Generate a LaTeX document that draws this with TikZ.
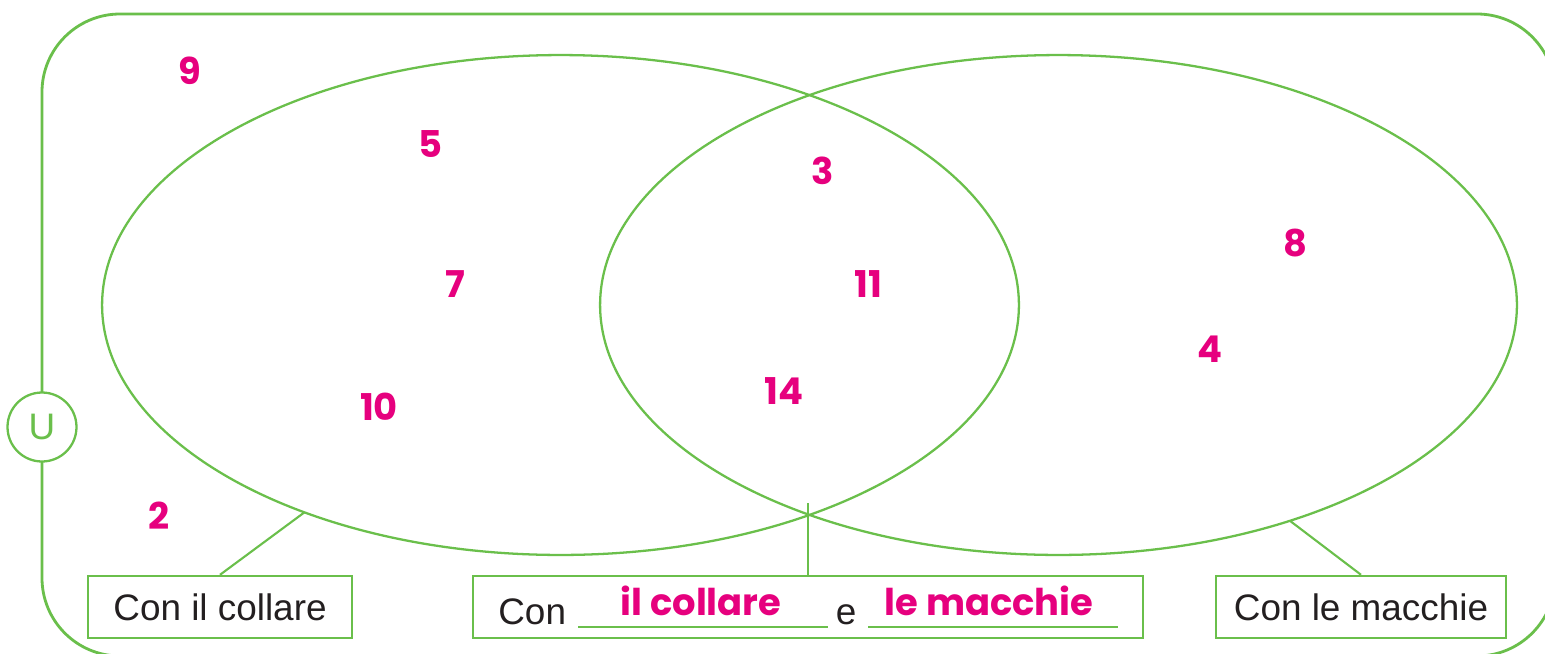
\documentclass[tikz,border=0pt]{standalone}
\usepackage{fontspec}
\setmainfont{Liberation Sans}
\newfontfamily\handfont{Poppins}
\usetikzlibrary{shapes.geometric}
\definecolor{vd}{HTML}{6ABF4B}
\definecolor{mg}{HTML}{E6007E}
\definecolor{ink}{HTML}{231F20}

\begin{document}
\begin{tikzpicture}[x=0.02cm,y=-0.02cm,
    set/.style={ellipse,draw=vd,line width=1.3pt,inner sep=0pt,outer sep=0pt,minimum width=18.34cm,minimum height=10cm},
    tag/.style={rectangle,draw=vd,line width=1.4pt,fill=white,minimum height=1.24cm,font=\fontsize{21}{24}\selectfont,text=ink},
    word/.style={font=\fontsize{21}{24}\selectfont,text=ink,inner sep=0pt},
    num/.style={font=\handfont\bfseries\fontsize{21}{24}\selectfont,text=mg,inner sep=0pt},
    link/.style={vd,line width=1.2pt},
]
\useasboundingbox (0,0) rectangle (1545,653);
\clip (0,0) rectangle (1545,653);

% Universe
\draw[vd,line width=1.6pt,rounded corners=1.56cm] (42,14) rectangle (1555,656);
\node[circle,draw=vd,line width=1.3pt,fill=white,minimum size=1.38cm,inner sep=0pt,text=vd,font=\fontsize{21}{24}\selectfont] (U) at (42,427) {U};

% Sets
\node[set] (A) at (560.5,305) {};
\node[set] (B) at (1058.5,305) {};

% Elements
\node[num] (n9) at (190,71) {9};
\node[num] (n5) at (430,144) {5};
\node[num] (n7) at (455,284) {7};
\node[num] (n10) at (379,407) {10};
\node[num] (n2) at (159,516) {2};
\node[num] (n3) at (823,171) {3};
\node[num] (n11) at (868,284) {11};
\node[num] (n14) at (784,391) {14};
\node[num] (n8) at (1295,243) {8};
\node[num] (n4) at (1210,349) {4};

% Labels
\node[tag,minimum width=5.28cm] (collare) at (220,607) {Con il collare};
\node[tag,minimum width=13.4cm] (both) at (808,607) {};
\node[tag,minimum width=5.8cm] (macchie) at (1361,607) {Con le macchie};
\node[word,anchor=base west] (con) at (498,624) {Con};
\node[word,anchor=base] (e) at (846,624) {e};
\node[num,anchor=base] (ans1) at (701,615) {il collare};
\node[num,anchor=base] (ans2) at (989,615) {le macchie};
\draw[vd,line width=0.8pt] (578,627) -- (828,627);
\draw[vd,line width=0.8pt] (868,627) -- (1118,627);

% Connectors
\coordinate (cross) at (808,503);
\draw[link] (collare.north) -- (A.219.5);
\draw[link] (both.north) -- (cross);
\draw[link] (macchie.north) -- (B.317.5);
\end{tikzpicture}
\end{document}
